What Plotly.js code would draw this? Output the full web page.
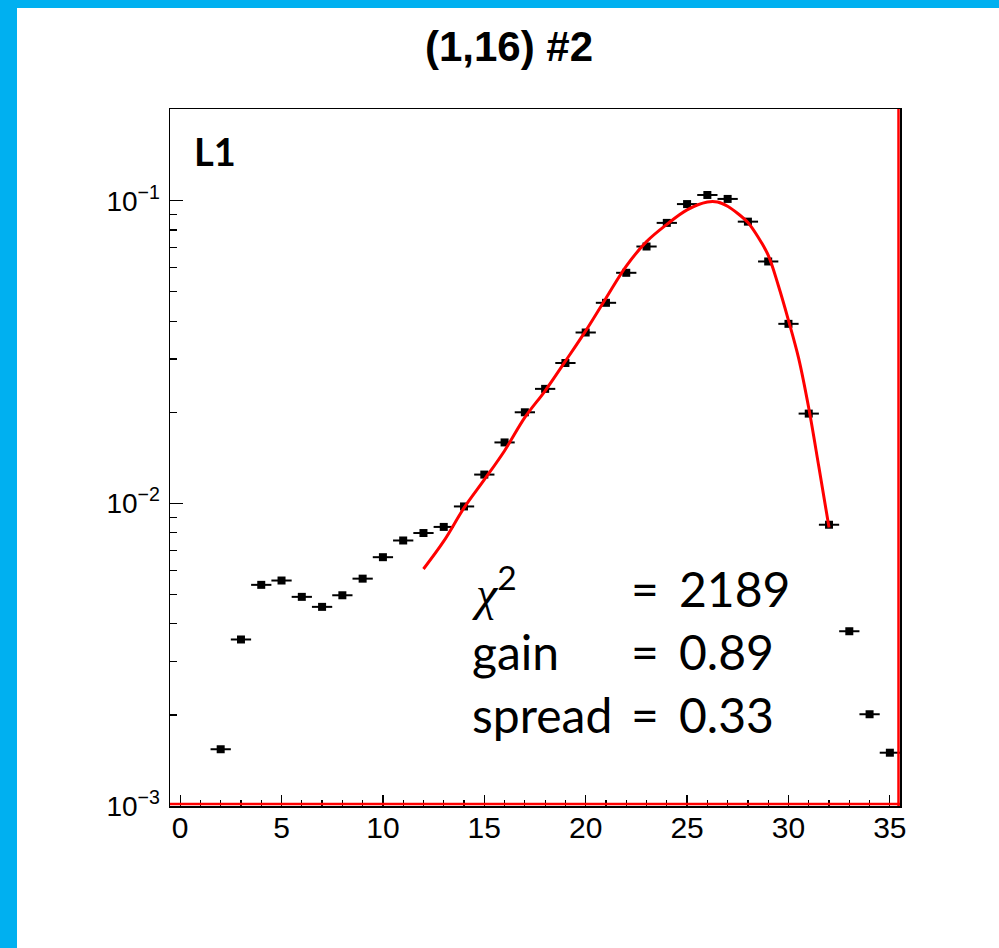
<!DOCTYPE html>
<html>
<head>
<meta charset="utf-8">
<script src="https://cdn.plot.ly/plotly-3.0.1.min.js"></script>
<style>
  html, body { margin: 0; padding: 0; background: #ffffff; }
  #chart { position: absolute; left: 0; top: 0; width: 999px; height: 948px; }
  .band { position: absolute; background: #00B0F0; z-index: 10; }
</style>
</head>
<body>
<div id="chart"></div>
<div class="band" style="left:0;top:0;width:17px;height:948px;"></div>
<div class="band" style="left:0;top:0;width:999px;height:8px;"></div>
<script>
// ---- data ----
const binCenters = [2, 3, 4, 5, 6, 7, 8, 9, 10, 11, 12, 13, 14, 15, 16, 17, 18, 19,
                    20, 21, 22, 23, 24, 25, 26, 27, 28, 29, 30, 31, 32, 33, 34, 35];
const binValues = [0.00154, 0.00355, 0.00538, 0.00556, 0.00491, 0.00455, 0.00497, 0.00564,
                   0.00664, 0.00754, 0.00798, 0.00836, 0.00977, 0.01245, 0.0159, 0.0200,
                   0.0239, 0.0291, 0.0367, 0.0460, 0.0578, 0.0706, 0.0845, 0.0975,
                   0.1045, 0.1014, 0.0853, 0.0630, 0.0392, 0.0198, 0.0085, 0.00378,
                   0.00201, 0.00150];
const binHalfWidth = [0.5];

const fitX = [12, 13, 14, 15, 16, 17, 18, 19, 20, 21, 22, 23, 24, 25, 26, 26.5,
              27, 27.5, 28, 28.5, 29, 29.5, 30, 30.5, 31, 31.5, 32];
const fitY = [0.00607, 0.00750, 0.00966, 0.01197, 0.01493, 0.01923, 0.02355, 0.02951,
              0.03715, 0.04764, 0.06081, 0.07328, 0.08356, 0.09333, 0.09908, 0.09908,
              0.09594, 0.09078, 0.08472, 0.07586, 0.06607, 0.05248, 0.04027, 0.03020,
              0.02065, 0.01318, 0.00832];

const xTickVals = [0, 5, 10, 15, 20, 25, 30, 35];
const yTickVals = [0.001, 0.01, 0.1];
const yTickText = ['10<sup>\u22123</sup>', '10<sup>\u22122</sup>', '10<sup>\u22121</sup>'];
const yMinorTicks = [0.002, 0.003, 0.004, 0.005, 0.006, 0.007, 0.008, 0.009,
                     0.02, 0.03, 0.04, 0.05, 0.06, 0.07, 0.08, 0.09, 0.2];

const titleText = '(1,16) #2';
const panelLabel = 'L1';
const statNames = ['<span style="font-family:\'Liberation Serif\'"><i>\u03c7</i></span><sup>2</sup>', 'gain', 'spread'];
const statValues = ['2189', '0.89', '0.33'];

// ---- layout geometry ----
const W = 999, H = 948;
const mL = 170, mR = 99, mT = 109, mB = 142;
const pw = W - mL - mR, ph = H - mT - mB;
const px = v => (v - mL) / pw;          // page x -> paper x
const py = v => (H - mB - v) / ph;      // page y -> paper y

const statFont = { family: 'Lato, "Open Sans", sans-serif', size: 48, color: '#000' };
const statRowsY = [588, 651, 714];
const sansFont = 'Liberation Sans, Arial, sans-serif';

const annotations = [];
annotations.push({
  xref: 'paper', yref: 'paper', x: px(192), y: py(151), xanchor: 'left', yanchor: 'middle',
  text: '<b>' + panelLabel + '</b>', showarrow: false,
  font: { family: 'Lato, "Open Sans", sans-serif', size: 38, color: '#000' }
});
statNames.forEach((name, i) => {
  annotations.push({ xref: 'paper', yref: 'paper', x: px(470), y: py(statRowsY[i]),
    xanchor: 'left', yanchor: 'middle', text: name, showarrow: false, font: statFont });
  annotations.push({ xref: 'paper', yref: 'paper', x: px(629), y: py(statRowsY[i]),
    xanchor: 'left', yanchor: 'middle', text: '=', showarrow: false, font: statFont });
  annotations.push({ xref: 'paper', yref: 'paper', x: px(677), y: py(statRowsY[i]),
    xanchor: 'left', yanchor: 'middle', text: statValues[i], showarrow: false, font: statFont });
});

const traces = [
  {
    type: 'scatter', mode: 'markers', x: binCenters, y: binValues,
    marker: { symbol: 'square', size: 8, color: '#000' },
    error_x: { type: 'data', array: binCenters.map(() => binHalfWidth[0]), color: '#000', thickness: 2, width: 0 },
    hoverinfo: 'x+y', showlegend: false
  },
  {
    type: 'scatter', mode: 'lines', x: fitX, y: fitY,
    line: { color: '#ff0000', width: 3, shape: 'spline', smoothing: 1 },
    showlegend: false
  }
];

const layout = {
  width: W, height: H,
  margin: { l: mL, r: mR, t: mT, b: mB, pad: 0 },
  paper_bgcolor: '#ffffff', plot_bgcolor: '#ffffff',
  showlegend: false,
  title: {
    text: '<b>' + titleText + '</b>',
    x: 509 / W, xref: 'container', xanchor: 'center',
    y: 1 - 46 / H, yref: 'container', yanchor: 'middle',
    font: { family: sansFont, size: 42, color: '#000' }
  },
  xaxis: {
    range: [-0.5, 35.5], showgrid: false, zeroline: false,
    showline: true, linecolor: '#000', linewidth: 1.5, mirror: true,
    tickmode: 'array', tickvals: xTickVals,
    ticks: 'inside', ticklen: 11, tickwidth: 1.2, tickcolor: '#000',
    minor: { dtick: 1, tick0: 0, ticks: 'inside', ticklen: 6, tickwidth: 1.2, tickcolor: '#000', showgrid: false },
    tickfont: { family: sansFont, size: 30, color: '#000' },
    ticklabelstandoff: -6
  },
  yaxis: {
    type: 'log', range: [-3, Math.log10(0.201)], showgrid: false, zeroline: false,
    showline: true, linecolor: '#000', linewidth: 1.5, mirror: true,
    tickmode: 'array', tickvals: yTickVals, ticktext: yTickText,
    ticks: 'inside', ticklen: 13, tickwidth: 1.2, tickcolor: '#000',
    minor: { tickmode: 'array', tickvals: yMinorTicks, ticks: 'inside', ticklen: 7, tickwidth: 1.2, tickcolor: '#000', showgrid: false },
    tickfont: { family: sansFont, size: 28, color: '#000' },
    ticklabelstandoff: 3
  },
  shapes: [
    { type: 'line', xref: 'paper', yref: 'paper', x0: 0, x1: 1, y0: 2 / ph, y1: 2 / ph,
      line: { color: '#ff0000', width: 2.5 } },
    { type: 'line', xref: 'paper', yref: 'paper', x0: 1 - 1.5 / pw, x1: 1 - 1.5 / pw, y0: 0, y1: 1,
      line: { color: '#ff0000', width: 2.5 } }
  ],
  annotations: annotations
};

Plotly.newPlot('chart', traces, layout, { displayModeBar: false, staticPlot: true });
</script>
</body>
</html>
